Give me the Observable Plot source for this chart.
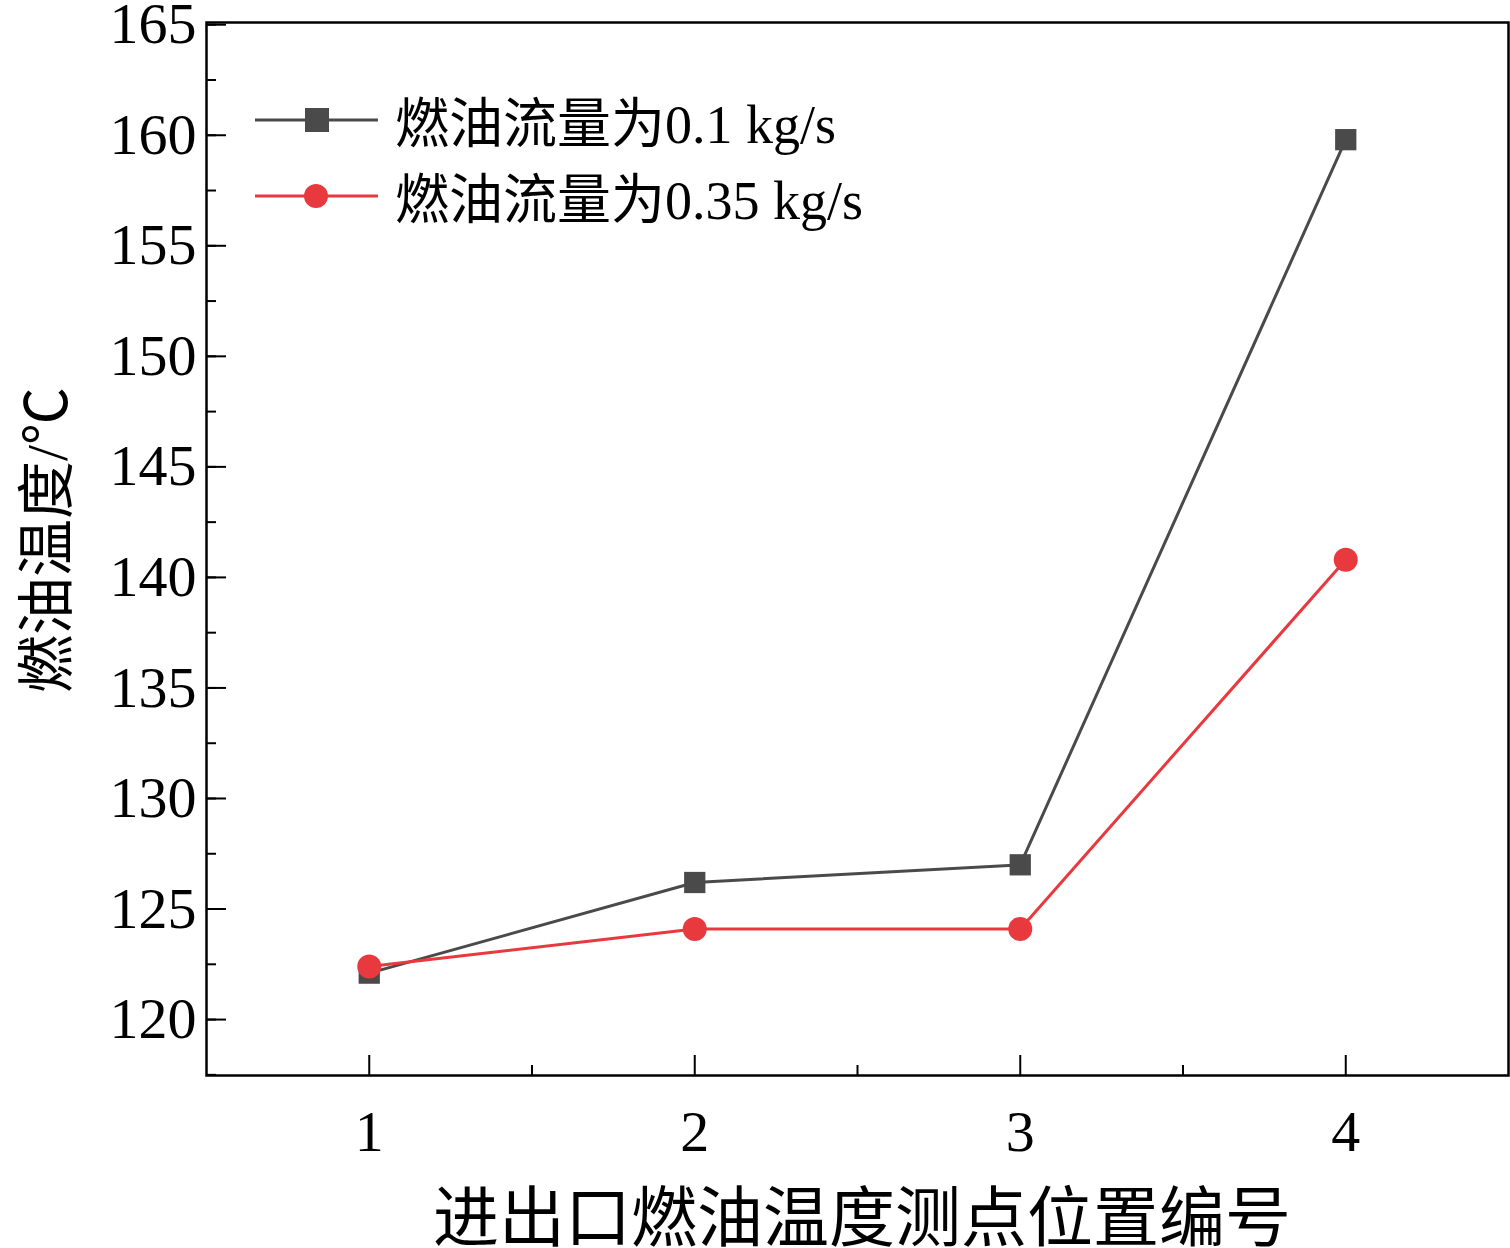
<!DOCTYPE html><html><head><meta charset="utf-8">
<script src="https://cdn.jsdelivr.net/npm/d3@7"></script>
<script src="https://cdn.jsdelivr.net/npm/@observablehq/plot@0.6"></script>
<style>body{margin:0;background:#fff}#wrap{position:relative;width:1510px;height:1248px;font-family:"Liberation Serif","Noto Sans CJK SC",serif}
.leg{position:absolute;left:250px;font-size:54px;display:flex;align-items:center}
svg{overflow:visible}
</style></head><body><div id="wrap"></div>
<script>
const positions=[1,2,3,4];
const low=[122.1,126.2,127.0,159.8];
const high=[122.4,124.1,124.1,140.8];
const names=["燃油流量为0.1 kg/s","燃油流量为0.35 kg/s"];
const colors=["#4a4a4a","#e8393f"];
const yTicks=[120,125,130,135,140,145,150,155,160,165];
const yMinor=d3.range(117.5,165.1,2.5);
const xMinor=[1.5,2.5,3.5];
const rows=[];
positions.forEach((p,i)=>{rows.push({x:p,y:low[i],s:names[0]});rows.push({x:p,y:high[i],s:names[1]});});
const X0=0.5,X1=4.5,Y0=117.47,Y1=165.1;
const dx=10/325, dy=10/22.1;
const plot=Plot.plot({width:1510,height:1248,marginLeft:206,marginRight:2,marginTop:22,marginBottom:173,
 style:{fontFamily:"Liberation Serif",fontSize:"58px",color:"#000",overflow:"visible"},
 x:{domain:[X0,X1]},y:{domain:[Y0,Y1]},
 color:{domain:names,range:colors},
 marks:[
  Plot.frame({stroke:"#000",strokeWidth:2.5}),
  Plot.axisY(yTicks,{tickSize:0,tickPadding:10,fontSize:58,label:null}),
  Plot.axisX(positions,{tickSize:0,tickPadding:34,fontSize:58,label:null,tickFormat:d=>String(d)}),
  Plot.ruleY(yTicks,{x1:X0,x2:X0+2*dx,stroke:"#000",strokeWidth:2}),
  Plot.ruleY(yMinor,{x1:X0,x2:X0+dx,stroke:"#000",strokeWidth:2}),
  Plot.ruleX(positions,{y1:Y0,y2:Y0+2*dy,stroke:"#000",strokeWidth:2}),
  Plot.ruleX(xMinor,{y1:Y0,y2:Y0+dy,stroke:"#000",strokeWidth:2}),
  Plot.line(rows,{x:"x",y:"y",z:"s",stroke:"s",strokeWidth:3}),
  Plot.dot(rows.filter(r=>r.s===names[0]),{x:"x",y:"y",symbol:"square",r:12,fill:colors[0]}),
  Plot.dot(rows.filter(r=>r.s===names[1]),{x:"x",y:"y",symbol:"circle",r:12,fill:colors[1]})
 ]});
const w=document.getElementById("wrap");w.appendChild(plot);
plot.style.position="absolute";plot.style.left="0";plot.style.top="0";
function leg(i,top,sq){const d=document.createElement("div");d.className="leg";d.style.top=top+"px";
 d.innerHTML=`<svg width="145" height="40"><line x1="5" y1="20" x2="128" y2="20" stroke="${colors[i]}" stroke-width="3"/>${sq?`<rect x="55" y="8" width="24" height="24" fill="${colors[i]}"/>`:`<circle cx="66" cy="20" r="12" fill="${colors[i]}"/>`}</svg><span>${names[i]}</span>`;w.appendChild(d);}
leg(0,80,true);leg(1,156,false);
const yl=document.createElement("div");yl.textContent="燃油温度/℃";
Object.assign(yl.style,{position:"absolute",left:"42px",top:"540px",fontSize:"58px",transform:"translate(-50%,-50%) rotate(-90deg)",whiteSpace:"nowrap"});w.appendChild(yl);
const xl=document.createElement("div");xl.textContent="进出口燃油温度测点位置编号";
Object.assign(xl.style,{position:"absolute",left:"862px",top:"1212px",fontSize:"66px",transform:"translate(-50%,-50%)",whiteSpace:"nowrap"});w.appendChild(xl);
</script></body></html>
